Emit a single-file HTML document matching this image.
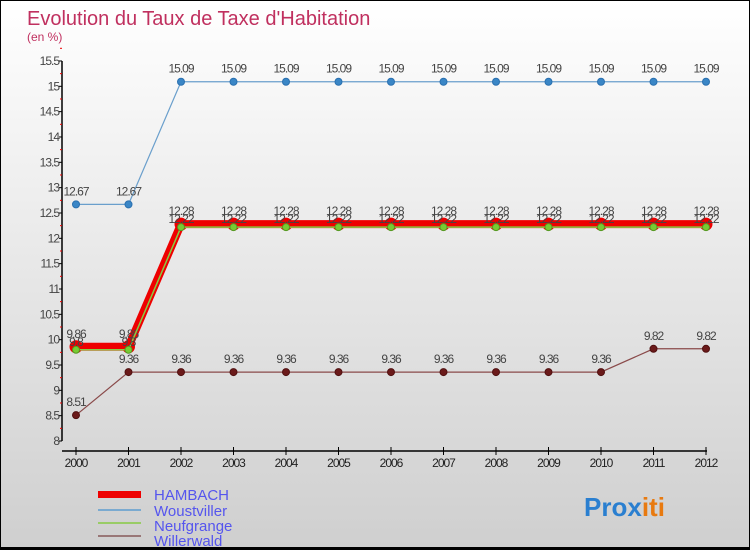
<!DOCTYPE html>
<html><head><meta charset="utf-8"><style>
body{margin:0}
#c{position:relative;width:750px;height:550px;overflow:hidden;box-sizing:border-box;border:1px solid #000;border-bottom:3px solid #000;background:linear-gradient(#ffffff,#cfcfcf);font-family:"Liberation Sans",sans-serif}
</style></head><body>
<div id="c">
<svg id="s" width="750" height="550" style="position:absolute;left:0;top:0">
<text x="26" y="24" font-size="20" fill="#c0305f">Evolution du Taux de Taxe d'Habitation</text>
<text x="26" y="40" font-size="12" fill="#c0305f">(en %)</text>
<text x="153" y="499" font-size="15" fill="#5555ee">HAMBACH</text>
<text x="153" y="515" font-size="15" fill="#5555ee">Woustviller</text>
<text x="153" y="530" font-size="15" fill="#5555ee">Neufgrange</text>
<text x="153" y="545" font-size="15" fill="#5555ee">Willerwald</text>
<rect x="97" y="490" width="43" height="7" fill="#e00"/>
<rect x="97" y="508" width="43" height="2" fill="#7aaad0"/>
<rect x="97" y="521" width="43" height="2" fill="#9c6"/>
<rect x="97" y="534" width="43" height="2" fill="#977"/>
<text x="583" y="515" font-size="26" font-weight="bold"><tspan fill="#2a7fd0">Pro</tspan><tspan fill="#2a7fd0">x</tspan><tspan fill="#e87a10">iti</tspan></text>
</svg>
</div>
<script>
const years=["2000","2001","2002","2003","2004","2005","2006","2007","2008","2009","2010","2011","2012"];
const yTicks=[8,8.5,9,9.5,10,10.5,11,11.5,12,12.5,13,13.5,14,14.5,15,15.5];
const hambach=[9.86,9.86,12.28,12.28,12.28,12.28,12.28,12.28,12.28,12.28,12.28,12.28,12.28];
const woustviller=[12.67,12.67,15.09,15.09,15.09,15.09,15.09,15.09,15.09,15.09,15.09,15.09,15.09];
const neufgrange=[9.8,9.8,12.22,12.22,12.22,12.22,12.22,12.22,12.22,12.22,12.22,12.22,12.22];
const willerwald=[8.51,9.36,9.36,9.36,9.36,9.36,9.36,9.36,9.36,9.36,9.36,9.82,9.82];
const NS="http://www.w3.org/2000/svg",s=document.getElementById('s');
const X=i=>75+i*52.5, Y=v=>440-(v-8)*50.67;
function mk(t,a){const e=document.createElementNS(NS,t);for(const k in a)e.setAttribute(k,a[k]);s.appendChild(e);return e;}
let ax=mk('path',{d:`M61 ${Y(15.5)} V440 M61 450 H706`,stroke:'#000','stroke-width':1.5,fill:'none'});


yTicks.forEach(v=>{
 const t=mk('text',{x:58,y:Y(v)+4,'text-anchor':'end','font-size':12,fill:'#444','letter-spacing':'-1'});t.textContent=String(v);
 
 
 mk('line',{x1:58,x2:61,y1:Y(v),y2:Y(v),stroke:'#000'});
 mk('line',{x1:59,x2:61,y1:Y(v+0.25),y2:Y(v+0.25),stroke:'#e00'});
});
years.forEach((y,i)=>{
 mk('line',{x1:X(i),x2:X(i),y1:446,y2:454,stroke:'#000'});
 const t=mk('text',{x:X(i),y:466,'text-anchor':'middle','font-size':12,fill:'#222','letter-spacing':'-1'});t.textContent=y;
 
 
});
function series(d,name,col,w,dot,dotc,r,labOff){
 const p=mk('polyline',{points:d.map((v,i)=>X(i)+','+Y(v)).join(' '),stroke:col,'stroke-width':w,fill:'none'});
 
 
 d.forEach((v,i)=>{
  const c=mk('circle',{cx:X(i),cy:Y(v),r:r,fill:dot,stroke:dotc,'stroke-width':1});
  
  
  const t=mk('text',{x:X(i),y:Y(v)+labOff,'text-anchor':'middle','font-size':12,fill:'#444','letter-spacing':'-1'});
  t.textContent=String(v);
  
  
 });
}
series(woustviller,'woustviller','#6a9fcc',1.2,'#3a86c6','#2a70b0',3.5,-9);
series(willerwald,'willerwald','#8a4a4a',1.2,'#6b1a1a','#501010',3.5,-9);
series(hambach,'hambach','#ee0000',8,'#ee0000','#ee0000',6,-9);
series(neufgrange,'neufgrange','#88cc44',1.5,'#77cc33','#559922',3.5,-4);
</script>
</body></html>
